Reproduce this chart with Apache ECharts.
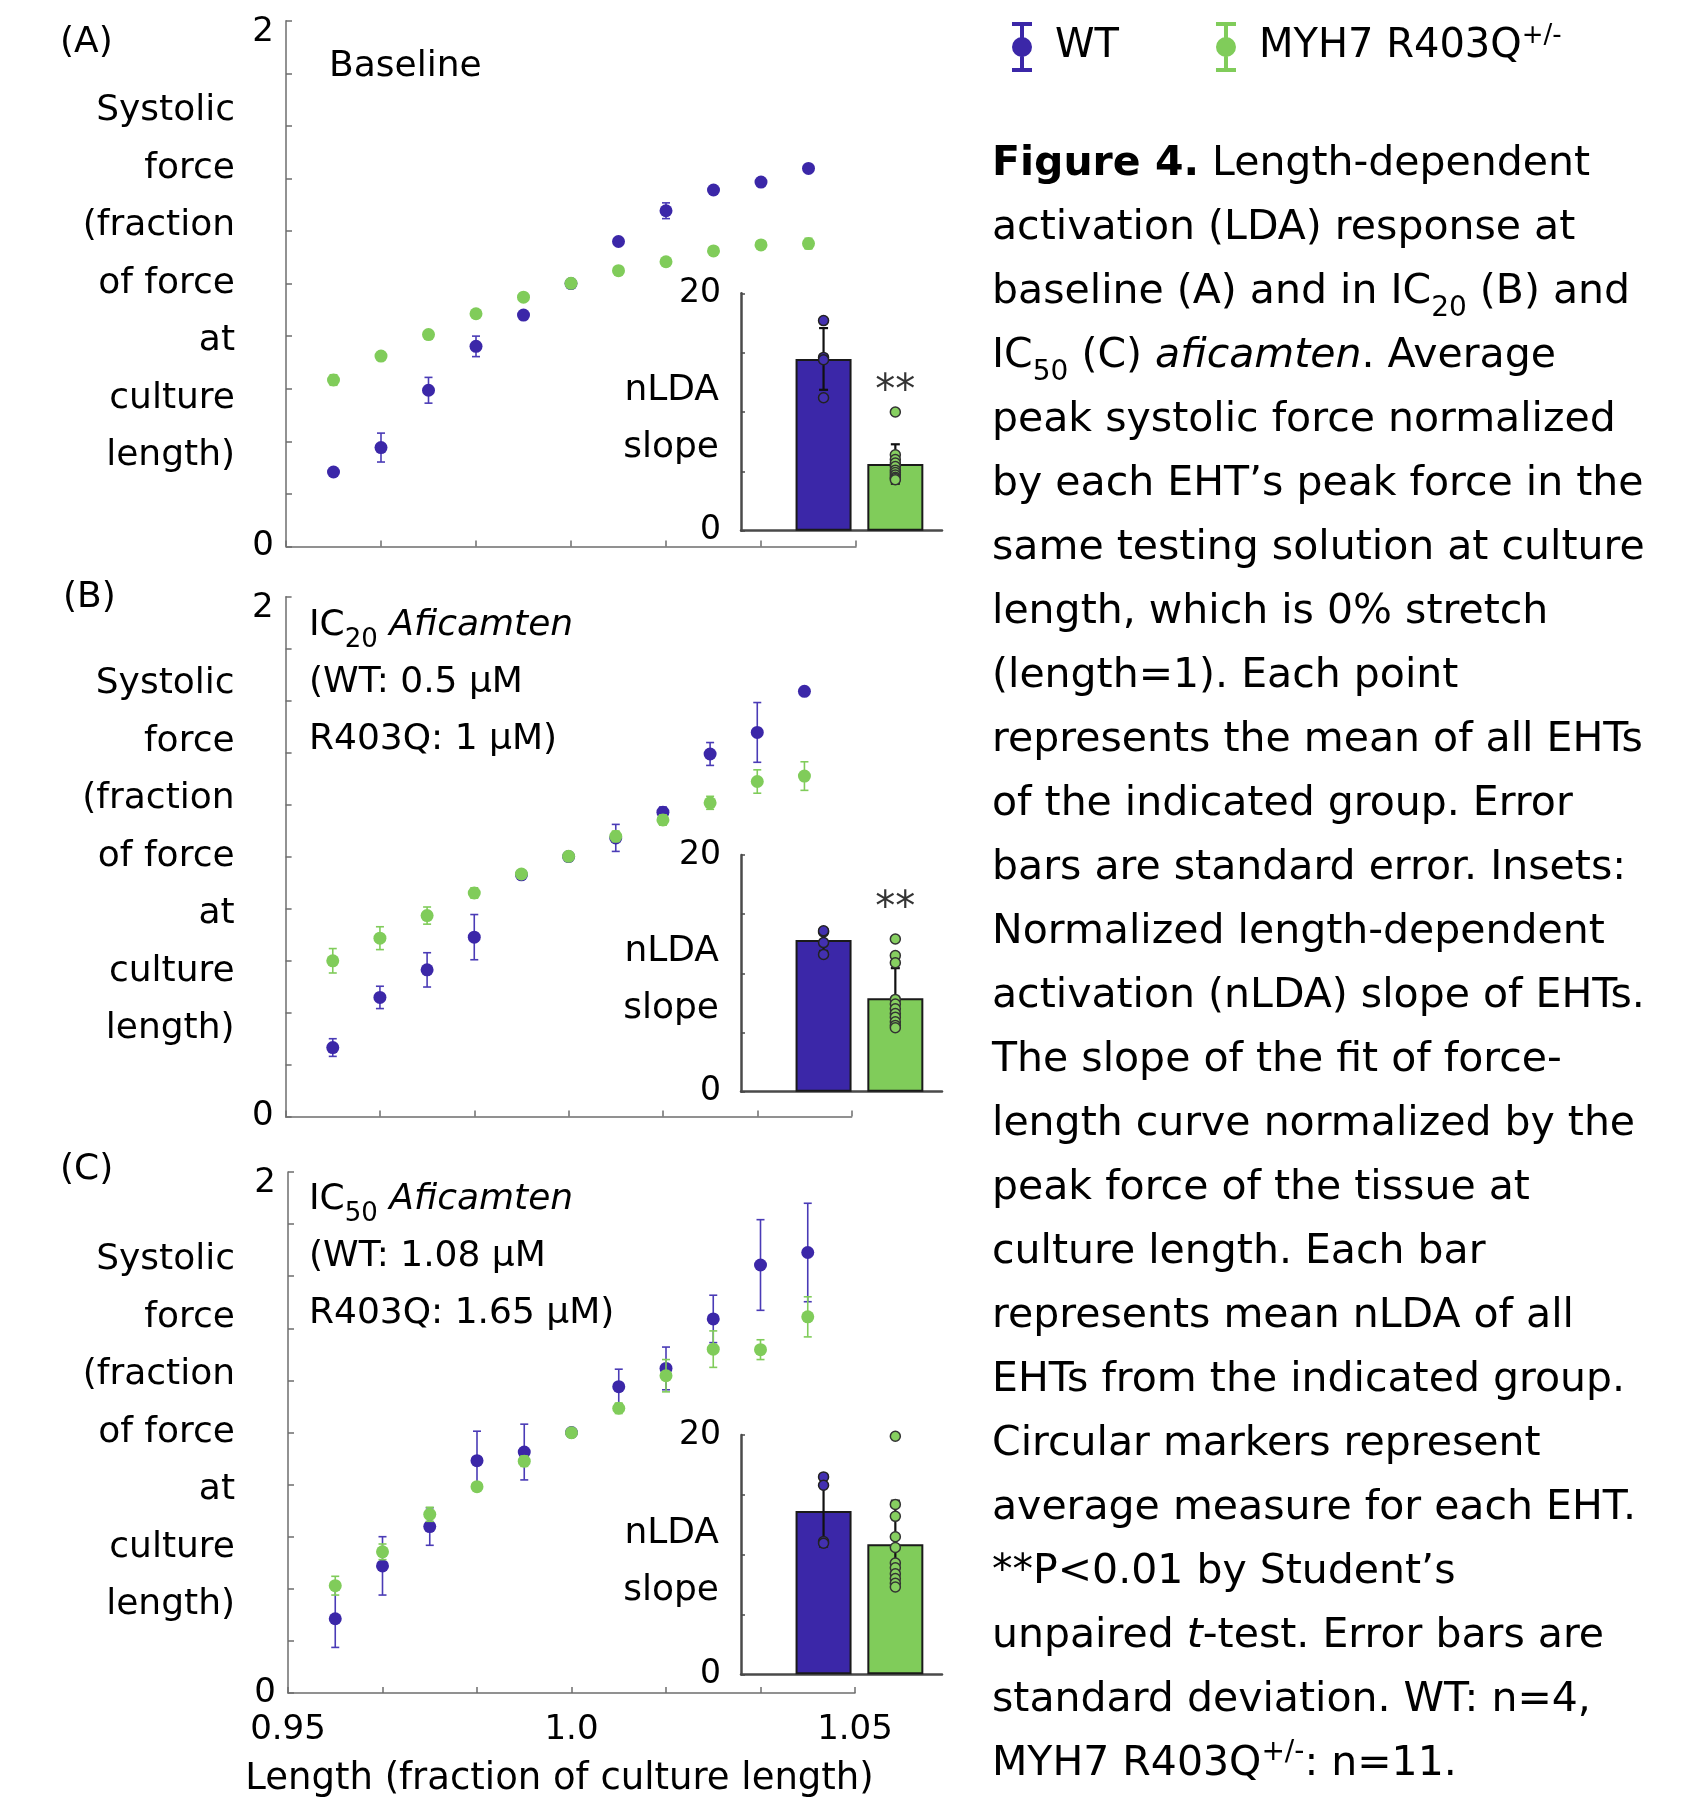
<!DOCTYPE html>
<html>
<head>
<meta charset="utf-8">
<title>Figure 4</title>
<script src="https://cdn.jsdelivr.net/npm/echarts@6.0.0/dist/echarts.min.js"></script>
<style>
html, body { margin: 0; padding: 0; background: #fff; }
#main { width: 1708px; height: 1799px; }
</style>
</head>
<body>
<div id="main"></div>
<script>
// x positions: length as fraction of culture length
var lengths = [0.95, 0.96, 0.97, 0.98, 0.99, 1.00, 1.01, 1.02, 1.03, 1.04, 1.05];
var xLabelAt = [0.94, 1.00, 1.06];
var xLabelText = ['0.95', '1.0', '1.05'];

// (A) baseline
var wtA = [0.283, 0.376, 0.594, 0.761, 0.880, 1.000, 1.160, 1.277, 1.356, 1.386, 1.438];
var wtErrA = [0.01, 0.055, 0.049, 0.039, 0.01, 0.0, 0.01, 0.03, 0.01, 0.01, 0.01];
var mutA = [0.633, 0.724, 0.806, 0.885, 0.948, 1.001, 1.049, 1.083, 1.124, 1.147, 1.152];
var mutErrA = [0.02, 0.01, 0.01, 0.01, 0.01, 0.0, 0.01, 0.01, 0.01, 0.01, 0.02];

// (B) IC20 aficamten
var wtB = [0.265, 0.458, 0.564, 0.690, 0.930, 1.000, 1.072, 1.171, 1.395, 1.478, 1.636];
var wtErrB = [0.034, 0.043, 0.066, 0.087, 0.01, 0.0, 0.052, 0.02, 0.044, 0.115, 0.01];
var mutB = [0.599, 0.686, 0.773, 0.860, 0.933, 1.001, 1.078, 1.141, 1.207, 1.289, 1.310];
var mutErrB = [0.047, 0.044, 0.033, 0.02, 0.01, 0.0, 0.02, 0.02, 0.025, 0.045, 0.055];

// (C) IC50 aficamten
var wtC = [0.285, 0.488, 0.639, 0.892, 0.925, 1.000, 1.176, 1.246, 1.436, 1.643, 1.691];
var wtErrC = [0.110, 0.112, 0.072, 0.113, 0.107, 0.0, 0.067, 0.082, 0.091, 0.174, 0.189];
var mutC = [0.412, 0.542, 0.686, 0.792, 0.890, 0.999, 1.093, 1.218, 1.320, 1.318, 1.444];
var mutErrC = [0.036, 0.03, 0.027, 0.01, 0.02, 0.0, 0.02, 0.062, 0.070, 0.038, 0.077];

// insets: nLDA slope, [WT, R403Q]
var slopeMeanA = [14.47, 5.62];
var slopeSdA = [2.6, 1.66];
var slopeWtA = [17.7, 14.6, 14.4, 11.2];
var slopeMutA = [10.0, 6.4, 6.0, 5.7, 5.4, 5.1, 4.9, 4.7, 4.5, 4.4, 4.3];
var starA = [2, 11.6];

var slopeMeanB = [12.82, 7.89];
var slopeSdB = [0.93, 2.55];
var slopeWtB = [13.5, 13.6, 12.6, 11.6];
var slopeMutB = [12.9, 11.5, 10.9, 7.8, 7.4, 7.0, 6.6, 6.3, 5.9, 5.6, 5.4];
var starB = [2, 15.4];

var slopeMeanC = [13.65, 10.86];
var slopeSdC = [2.97, 3.65];
var slopeWtC = [16.5, 15.8, 11.1, 10.95];
var slopeMutC = [19.9, 14.2, 13.2, 11.5, 10.6, 9.3, 8.9, 8.4, 8.0, 7.6, 7.3];

var captionLines = [
    '{b|Figure 4.} Length-dependent',
    'activation (LDA) response at',
    'baseline (A) and in IC{sub|20} (B) and',
    'IC{sub|50} (C) {i|aficamten}. Average',
    'peak systolic force normalized',
    'by each EHT\u2019s peak force in the',
    'same testing solution at culture',
    'length, which is 0% stretch',
    '(length=1). Each point',
    'represents the mean of all EHTs',
    'of the indicated group. Error',
    'bars are standard error. Insets:',
    'Normalized length-dependent',
    'activation (nLDA) slope of EHTs.',
    'The slope of the fit of force-',
    'length curve normalized by the',
    'peak force of the tissue at',
    'culture length. Each bar',
    'represents mean nLDA of all',
    'EHTs from the indicated group.',
    'Circular markers represent',
    'average measure for each EHT.',
    '**P<0.01 by Student\u2019s',
    'unpaired {i|t}-test. Error bars are',
    'standard deviation. WT: n=4,',
    'MYH7 R403Q{sup|+/-}: n=11.'
];

var FONT = 'DejaVu Sans';
var BLUE = '#3b27a8';
var BLUE_ERR = '#4a3bb6';
var GREEN = '#80cc5a';
var AXIS = '#6e6e6e';
var INSET_AXIS = '#4a4a4a';
var ICON = 'path://M0,0H20V4H0Z M8,0H12V50H8Z M0,46H20V50H0Z M10,15A10,10,0,1,1,10,35A10,10,0,1,1,10,15Z';

var chart = echarts.init(document.getElementById('main'), null, {renderer: 'canvas'});

function errRender(color, capHalf, lw) {
    return function (params, api) {
        var x = api.value(0);
        var hi = api.coord([x, api.value(2)]);
        var lo = api.coord([x, api.value(1)]);
        var st = {stroke: color, lineWidth: lw};
        return {
            type: 'group',
            children: [
                {type: 'line', shape: {x1: hi[0], y1: hi[1], x2: lo[0], y2: lo[1]}, style: st},
                {type: 'line', shape: {x1: hi[0] - capHalf, y1: hi[1], x2: hi[0] + capHalf, y2: hi[1]}, style: st},
                {type: 'line', shape: {x1: lo[0] - capHalf, y1: lo[1], x2: lo[0] + capHalf, y2: lo[1]}, style: st}
            ]
        };
    };
}

var mainGrids = [
    {left: 286, top: 20.7, width: 570, height: 525.7},
    {left: 285.6, top: 596.8, width: 566, height: 519.6},
    {left: 288, top: 1172, width: 567, height: 521}
];
var insetGrids = [
    {left: 741, top: 293.3, width: 201, height: 237.4},
    {left: 741, top: 855, width: 201, height: 236.7},
    {left: 741, top: 1435, width: 201, height: 239.3}
];

var panels = [
    {wt: wtA, wtErr: wtErrA, mut: mutA, mutErr: mutErrA,
     mean: slopeMeanA, sd: slopeSdA, wtPts: slopeWtA, mutPts: slopeMutA, star: starA},
    {wt: wtB, wtErr: wtErrB, mut: mutB, mutErr: mutErrB,
     mean: slopeMeanB, sd: slopeSdB, wtPts: slopeWtB, mutPts: slopeMutB, star: starB},
    {wt: wtC, wtErr: wtErrC, mut: mutC, mutErr: mutErrC,
     mean: slopeMeanC, sd: slopeSdC, wtPts: slopeWtC, mutPts: slopeMutC, star: null}
];

var grids = [], xAxes = [], yAxes = [], series = [];

mainGrids.concat(insetGrids).forEach(function (g) {
    grids.push({left: g.left, top: g.top, width: g.width, height: g.height,
        containLabel: false, outerBoundsMode: 'none'});
});

// main axes
for (var i = 0; i < 3; i++) {
    xAxes.push({
        gridIndex: i, type: 'value', min: 0.94, max: 1.06, interval: 0.02,
        axisLine: {show: true, onZero: false, lineStyle: {color: AXIS, width: 1.5}},
        axisTick: {show: true, inside: true, length: 6, lineStyle: {color: AXIS, width: 1.5}},
        splitLine: {show: false},
        axisLabel: {
            show: i === 2, margin: 20, color: '#000', fontFamily: FONT, fontSize: 34,
            showMinLabel: true, showMaxLabel: true,
            formatter: function (v) {
                for (var k = 0; k < xLabelAt.length; k++) {
                    if (Math.abs(v - xLabelAt[k]) < 1e-6) return xLabelText[k];
                }
                return '';
            }
        },
        name: i === 2 ? 'Length (fraction of culture length)' : '',
        nameLocation: 'middle', nameGap: 68, nameMoveOverlap: false,
        nameTextStyle: {color: '#000', fontFamily: FONT, fontSize: 37, padding: [0, 24, 0, 0]}
    });
    yAxes.push({
        gridIndex: i, type: 'value', min: 0, max: 2, interval: 0.2,
        axisLine: {show: true, onZero: false, lineStyle: {color: AXIS, width: 1.5}},
        axisTick: {show: true, inside: true, length: 6, lineStyle: {color: AXIS, width: 1.5}},
        splitLine: {show: false},
        axisLabel: {
            margin: 12, color: '#000', fontFamily: FONT, fontSize: 34,
            formatter: function (v) {
                if (Math.abs(v - 2) < 1e-6) return '{top|2}';
                if (Math.abs(v) < 1e-6) return '0';
                return '';
            },
            rich: {top: {fontFamily: FONT, fontSize: 34, padding: [22, 0, 0, 0]}}
        },
        name: 'Systolic\nforce\n(fraction\nof force\nat\nculture\nlength)',
        nameLocation: 'middle', nameRotate: 0, nameGap: i === 2 ? 53 : 51, nameMoveOverlap: false,
        nameTextStyle: {color: '#000', fontFamily: FONT, fontSize: 36, lineHeight: 57.5,
            align: 'right', verticalAlign: 'middle'}
    });
}

// inset axes
for (var j = 0; j < 3; j++) {
    xAxes.push({
        gridIndex: 3 + j, type: 'value', min: -0.15, max: 2.65,
        axisLine: {show: true, onZero: false, lineStyle: {color: INSET_AXIS, width: 2.5}},
        axisTick: {show: false}, axisLabel: {show: false}, splitLine: {show: false}
    });
    yAxes.push({
        gridIndex: 3 + j, type: 'value', min: 0, max: 20, interval: 5,
        axisLine: {show: true, onZero: false, lineStyle: {color: INSET_AXIS, width: 2.5}},
        axisTick: {show: true, inside: true, length: 4, lineStyle: {color: INSET_AXIS, width: 1.5}},
        splitLine: {show: false},
        axisLabel: {
            margin: 20, color: '#000', fontFamily: FONT, fontSize: 33,
            formatter: function (v) { return (v === 0 || v === 20) ? String(v) : ''; }
        },
        name: '{n|nLDA}\n{n|slope}', nameLocation: 'middle', nameRotate: 0, nameGap: 22, nameMoveOverlap: false,
        nameTextStyle: {color: '#000', fontFamily: FONT, fontSize: 36, lineHeight: 57,
            align: 'right', verticalAlign: 'middle',
            rich: {n: {fontFamily: FONT, fontSize: 36, color: '#000', lineHeight: 57, padding: [14, 0, 0, 0]}}}
    });
}

panels.forEach(function (p, i) {
    // main panel: error bars then markers, WT underneath
    series.push({
        name: 'WT', type: 'custom', xAxisIndex: i, yAxisIndex: i, z: 2, clip: false,
        itemStyle: {color: BLUE},
        renderItem: errRender(BLUE_ERR, 4, 1.6),
        encode: {x: 0, y: [1, 2]},
        data: lengths.map(function (x, k) { return [x, p.wt[k] - p.wtErr[k], p.wt[k] + p.wtErr[k]]; })
    });
    series.push({
        name: 'WT', type: 'scatter', xAxisIndex: i, yAxisIndex: i, z: 3,
        symbol: 'circle', symbolSize: 13,
        itemStyle: {color: BLUE, opacity: 1},
        data: lengths.map(function (x, k) { return [x, p.wt[k]]; })
    });
    series.push({
        name: 'MYH7 R403Q+/-', type: 'custom', xAxisIndex: i, yAxisIndex: i, z: 4, clip: false,
        itemStyle: {color: GREEN},
        renderItem: errRender(GREEN, 4, 1.6),
        encode: {x: 0, y: [1, 2]},
        data: lengths.map(function (x, k) { return [x, p.mut[k] - p.mutErr[k], p.mut[k] + p.mutErr[k]]; })
    });
    series.push({
        name: 'MYH7 R403Q+/-', type: 'scatter', xAxisIndex: i, yAxisIndex: i, z: 5,
        symbol: 'circle', symbolSize: 13,
        itemStyle: {color: GREEN, opacity: 1},
        data: lengths.map(function (x, k) { return [x, p.mut[k]]; })
    });

    // inset bar chart
    var ix = 3 + i;
    series.push({
        name: 'nLDA', type: 'bar', xAxisIndex: ix, yAxisIndex: ix, z: 6, barWidth: 56,
        itemStyle: {borderColor: '#1a1a1a', borderWidth: 2},
        data: [
            {value: [1, p.mean[0]], itemStyle: {color: BLUE}},
            {value: [2, p.mean[1]], itemStyle: {color: GREEN}}
        ]
    });
    series.push({
        name: 'nLDA sd', type: 'custom', xAxisIndex: ix, yAxisIndex: ix, z: 7, clip: false,
        renderItem: errRender('#111', 4.5, 2.2),
        encode: {x: 0, y: [1, 2]},
        data: [
            [1, p.mean[0] - p.sd[0], p.mean[0] + p.sd[0]],
            [2, p.mean[1] - p.sd[1], p.mean[1] + p.sd[1]]
        ]
    });
    series.push({
        name: 'WT', type: 'scatter', xAxisIndex: ix, yAxisIndex: ix, z: 8,
        symbol: 'circle', symbolSize: 10,
        itemStyle: {color: '#4330b0', borderColor: '#222', borderWidth: 1.5, opacity: 1},
        data: p.wtPts.map(function (v) { return [1, v]; })
    });
    series.push({
        name: 'MYH7 R403Q+/-', type: 'scatter', xAxisIndex: ix, yAxisIndex: ix, z: 8,
        symbol: 'circle', symbolSize: 10,
        itemStyle: {color: '#86cf60', borderColor: '#333', borderWidth: 1.5, opacity: 1},
        data: p.mutPts.map(function (v) { return [2, v]; })
    });
    if (p.star) {
        series.push({
            name: 'sig', type: 'scatter', xAxisIndex: ix, yAxisIndex: ix, z: 9,
            symbol: 'circle', symbolSize: 1, itemStyle: {color: 'transparent'},
            label: {show: true, position: 'inside', formatter: '**', color: '#000',
                fontFamily: FONT, fontSize: 40},
            data: [p.star]
        });
    }
});

var richCaption = {
    b: {fontFamily: FONT, fontSize: 41, fontWeight: 'bold', lineHeight: 64, color: '#000'},
    i: {fontFamily: FONT, fontSize: 41, fontStyle: 'italic', lineHeight: 64, color: '#000'},
    sub: {fontFamily: FONT, fontSize: 28, lineHeight: 64, padding: [34, 0, 0, 0], color: '#000'},
    sup: {fontFamily: FONT, fontSize: 28, lineHeight: 64, padding: [0, 0, 22, 0], color: '#000'}
};
var richPanel = {
    i: {fontFamily: FONT, fontSize: 36, fontStyle: 'italic', lineHeight: 57, color: '#000'},
    sub: {fontFamily: FONT, fontSize: 26, lineHeight: 57, padding: [30, 0, 0, 0], color: '#000'}
};
function panelText(size) {
    return {fontFamily: FONT, fontSize: size, fontWeight: 'normal', color: '#000', lineHeight: 57, rich: richPanel};
}

var option = {
    animation: false,
    backgroundColor: '#fff',
    textStyle: {fontFamily: FONT},
    title: [
        {text: '(A)', left: 60, top: 14, padding: 0, textStyle: panelText(36)},
        {text: '(B)', left: 63, top: 569, padding: 0, textStyle: panelText(36)},
        {text: '(C)', left: 60, top: 1141, padding: 0, textStyle: panelText(36)},
        {text: 'Baseline', left: 329, top: 38, padding: 0, textStyle: panelText(36)},
        {text: 'IC{sub|20} {i|Aficamten}\n(WT: 0.5 \u03bcM\nR403Q: 1 \u03bcM)', left: 309, top: 597, padding: 0, textStyle: panelText(36)},
        {text: 'IC{sub|50} {i|Aficamten}\n(WT: 1.08 \u03bcM\nR403Q: 1.65 \u03bcM)', left: 309, top: 1171, padding: 0, textStyle: panelText(36)},
        {text: captionLines.join('\n'), left: 992, top: 132, padding: 0,
         textStyle: {fontFamily: FONT, fontSize: 41, fontWeight: 'normal', color: '#000', lineHeight: 64, rich: richCaption}}
    ],
    legend: {
        left: 1012, top: 22, padding: 0, itemWidth: 20, itemHeight: 50, itemGap: 97,
        selectedMode: false,
        data: [
            {name: 'WT', icon: ICON, itemStyle: {color: BLUE}},
            {name: 'MYH7 R403Q+/-', icon: ICON, itemStyle: {color: GREEN}}
        ],
        formatter: function (n) {
            return n === 'WT' ? '{t|WT}' : '{t|MYH7 R403Q}{sup|+/-}';
        },
        textStyle: {
            color: '#000', fontFamily: FONT, fontSize: 40, padding: [0, 0, 0, 18],
            rich: {
                t: {fontFamily: FONT, fontSize: 40, color: '#000'},
                sup: {fontFamily: FONT, fontSize: 26, color: '#000', padding: [0, 0, 22, 0]}
            }
        }
    },
    grid: grids,
    xAxis: xAxes,
    yAxis: yAxes,
    series: series
};

chart.setOption(option);
</script>
</body>
</html>
